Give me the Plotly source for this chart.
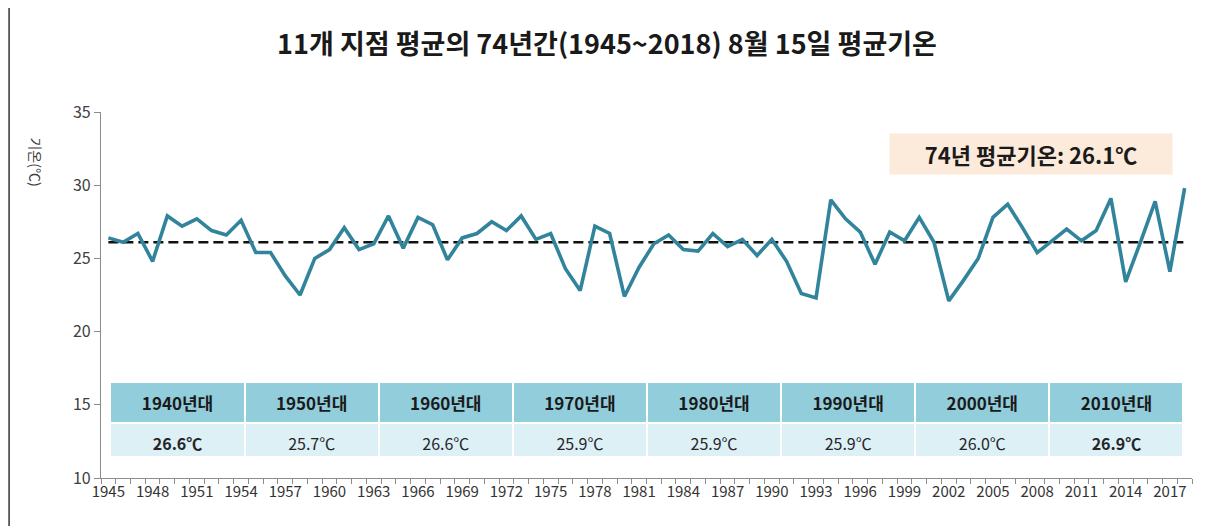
import plotly.graph_objects as go

years = list(range(1945, 2019))
temps = [26.4, 26.1, 26.7, 24.8, 27.9, 27.2, 27.7, 26.9, 26.6, 27.6,
         25.4, 25.4, 23.8, 22.5, 25.0, 25.6, 27.1, 25.6, 26.0, 27.9,
         25.7, 27.8, 27.3, 24.9, 26.4, 26.7, 27.5, 26.9, 27.9, 26.3,
         26.7, 24.3, 22.8, 27.2, 26.7, 22.4, 24.4, 26.0, 26.6, 25.6,
         25.5, 26.7, 25.8, 26.3, 25.2, 26.3, 24.8, 22.6, 22.3, 29.0,
         27.7, 26.8, 24.6, 26.8, 26.2, 27.8, 26.1, 22.1, 23.5, 25.0,
         27.8, 28.7, 27.1, 25.4, 26.2, 27.0, 26.2, 26.9, 29.1, 23.4,
         26.1, 28.9, 24.1, 29.8]
mean_temp = 26.1

decades = ["1940년대", "1950년대", "1960년대", "1970년대",
           "1980년대", "1990년대", "2000년대", "2010년대"]
decade_means = [26.6, 25.7, 26.6, 25.9, 25.9, 25.9, 26.0, 26.9]
decade_bold = [True, False, False, False, False, False, False, True]

tick_years = list(range(1945, 2019, 3))

FONT = "Noto Sans CJK KR"
W, H = 1214, 526
OFF = 8  # page body margin offset
# screen-space plot area
SX0, SX1, SY0, SY1 = 100.5, 1192.5, 112, 478
ML = SX0 - OFF
MT = SY0 - OFF
MR = W - (SX1 - OFF)
MB = H - (SY1 - OFF)
PW = SX1 - SX0
PH = SY1 - SY0


def px_x(px):
    return (px - SX0) / PW


def px_y(py):
    return (SY1 - py) / PH


fig = go.Figure()

fig.add_trace(go.Scatter(
    x=[years[0], years[-1]], y=[mean_temp, mean_temp], mode="lines",
    line=dict(color="#111111", width=2.5, dash="10px,5px"),
    hoverinfo="skip", showlegend=False))

fig.add_trace(go.Scatter(
    x=years, y=temps, mode="lines",
    line=dict(color="#31849B", width=3.6),
    showlegend=False))

header_vals = [f"<b>{d}</b>" for d in decades]
cell_vals = [[(f"<b>{v:.1f}℃</b>" if b else f"<span>{v:.1f}℃</span>")]
             for v, b in zip(decade_means, decade_bold)]

fig.add_trace(go.Table(
    domain=dict(x=[px_x(110), px_x(1184)], y=[px_y(456), px_y(382)]),
    header=dict(values=header_vals, fill_color="#92CDDC",
                line=dict(color="white", width=2), height=36,
                font=dict(family=FONT, size=17, color="#1a1a1a"),
                align="center"),
    cells=dict(values=cell_vals, fill_color="#DDF0F6",
               line=dict(color="white", width=2), height=36,
               font=dict(family=FONT, size=16, color="#262626"),
               align="center"),
))

fig.update_layout(
    width=W, height=H,
    margin=dict(l=ML, r=MR, t=MT, b=MB),
    paper_bgcolor="white", plot_bgcolor="white",
    font=dict(family=FONT, color="#404040"),
    title=dict(text="<b>11개 지점 평균의 74년간(1945~2018) 8월 15일 평균기온</b>",
               x=(607 - OFF) / W, xref="container", xanchor="center",
               y=1 - (45 - OFF) / H, yref="container", yanchor="middle",
               font=dict(family=FONT, size=27, color="#1a1a1a")),
    xaxis=dict(range=[1944.5, 2018.5], tickmode="array", tickvals=tick_years,
               ticktext=[str(y) for y in tick_years], ticks="",
               showline=True, linecolor="#8c8c8c", linewidth=1.2,
               showgrid=False, zeroline=False,
               tickfont=dict(family=FONT, size=15, color="#333333"),
               minor=dict(ticks="outside", tick0=1944.5, dtick=1, ticklen=5,
                          tickcolor="#8c8c8c", showgrid=False)),
    yaxis=dict(range=[10, 35], dtick=5, tick0=10, ticks="outside", ticklen=6,
               tickcolor="#8c8c8c", showline=True, linecolor="#8c8c8c",
               linewidth=1.2, showgrid=False, zeroline=False,
               tickfont=dict(family=FONT, size=16, color="#404040")),
    showlegend=False,
)

fig.add_annotation(
    x=px_x(1031), y=px_y(154), xref="paper", yref="paper",
    xanchor="center", yanchor="middle",
    text="<b>74년 평균기온: 26.1℃</b>", showarrow=False,
    font=dict(family=FONT, size=22, color="#1a1a1a"),
    bgcolor="#FCEBDA", width=282, height=40, borderpad=0)

fig.add_annotation(
    x=px_x(35), y=px_y(162), xref="paper", yref="paper",
    xanchor="center", yanchor="middle",
    text="기온(℃)", textangle=90, showarrow=False,
    font=dict(family=FONT, size=14, color="#404040"))

fig.add_shape(type="line", xref="paper", yref="paper",
              x0=px_x(OFF + 0.5), x1=px_x(OFF + 0.5), y0=px_y(0), y1=px_y(H),
              line=dict(color="#333333", width=1.5))
fig.add_shape(type="line", xref="paper", yref="paper",
              x0=px_x(1209), x1=px_x(1209), y0=px_y(0), y1=px_y(H),
              line=dict(color="#333333", width=1.5))

fig.write_html("out.html")
